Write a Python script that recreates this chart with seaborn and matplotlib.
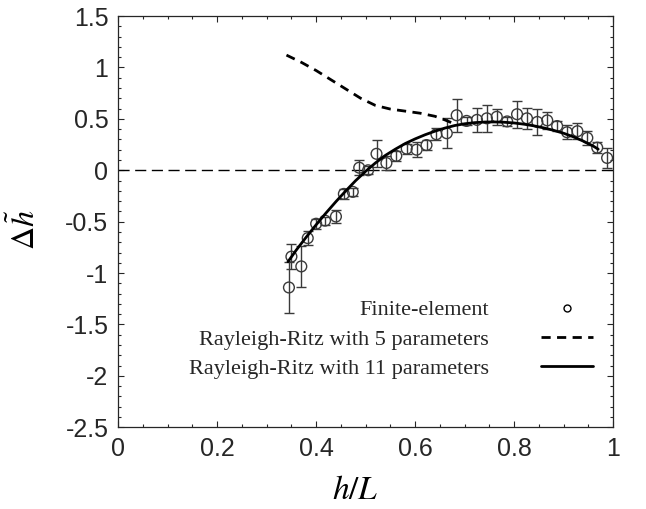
import numpy as np
import pandas as pd
import matplotlib
matplotlib.use("Agg")
import matplotlib.pyplot as plt
import seaborn as sns
from matplotlib.lines import Line2D
from matplotlib.ticker import MultipleLocator

# Finite-element points (h/L, delta h, error)
fe_x = [0.345, 0.350, 0.370, 0.383, 0.400, 0.418, 0.440, 0.456, 0.474, 0.487,
        0.505, 0.522, 0.542, 0.562, 0.583, 0.603, 0.623, 0.643, 0.664, 0.684,
        0.704, 0.725, 0.745, 0.765, 0.786, 0.806, 0.826, 0.847, 0.867, 0.887,
        0.907, 0.928, 0.948, 0.968, 0.988]
fe_y = [-1.14, -0.84, -0.935, -0.66, -0.52, -0.49, -0.45, -0.23, -0.21, 0.025,
        0.0, 0.16, 0.07, 0.14, 0.21, 0.20, 0.245, 0.35, 0.36, 0.535,
        0.48, 0.49, 0.505, 0.52, 0.475, 0.545, 0.505, 0.47, 0.485, 0.43,
        0.37, 0.38, 0.315, 0.22, 0.12]
fe_err = [0.25, 0.12, 0.20, 0.07, 0.05, 0.04, 0.06, 0.05, 0.04, 0.07,
          0.04, 0.13, 0.07, 0.05, 0.05, 0.07, 0.05, 0.06, 0.145, 0.16,
          0.04, 0.12, 0.13, 0.08, 0.04, 0.13, 0.10, 0.13, 0.08, 0.05,
          0.07, 0.08, 0.07, 0.05, 0.10]

# Rayleigh-Ritz, 5 parameters
rr5_x = [0.34, 0.37, 0.40, 0.43, 0.46, 0.49, 0.52, 0.55, 0.58, 0.61, 0.64, 0.66, 0.68]
rr5_y = [1.12, 1.05, 0.97, 0.88, 0.79, 0.70, 0.63, 0.595, 0.575, 0.555, 0.525, 0.49, 0.45]

# Rayleigh-Ritz, 11 parameters
rr11_x = [0.343, 0.36, 0.38, 0.40, 0.42, 0.44, 0.46, 0.48, 0.50, 0.52, 0.54, 0.56,
          0.58, 0.60, 0.62, 0.64, 0.66, 0.68, 0.70, 0.72, 0.74, 0.76, 0.78, 0.80,
          0.82, 0.84, 0.86, 0.88, 0.90, 0.92, 0.94, 0.96, 0.97]
rr11_y = [-0.89, -0.775, -0.65, -0.53, -0.415, -0.305, -0.2, -0.1, -0.01, 0.072, 0.145, 0.205,
          0.26, 0.305, 0.345, 0.38, 0.41, 0.435, 0.452, 0.463, 0.469, 0.47, 0.467, 0.46,
          0.448, 0.432, 0.412, 0.388, 0.36, 0.325, 0.283, 0.235, 0.205]

legend_labels = ["Finite-element", "Rayleigh-Ritz with 5 parameters",
                 "Rayleigh-Ritz with 11 parameters"]

sns.set_theme(style="ticks")
plt.rcParams['font.family'] = ['Liberation Sans', 'DejaVu Sans']
plt.rcParams['mathtext.fontset'] = 'stix'

grey = "#3a3a3a"
fig = plt.figure(figsize=(6.46, 5.09), dpi=100)
ax = fig.add_axes([0.183, 0.1605, 0.766, 0.808])

ax.axhline(0, color="black", lw=1.0, linestyle=(0, (8, 4)), zorder=1)

fe = pd.DataFrame({"x": fe_x, "y": fe_y, "err": fe_err})
ax.errorbar(fe["x"], fe["y"], yerr=fe["err"], fmt="none", ecolor=grey,
            elinewidth=1.0, capsize=3.6, capthick=1.0, zorder=2)
sns.scatterplot(data=fe, x="x", y="y", ax=ax, marker="o", s=60,
                facecolors="none", edgecolor=grey, linewidth=1.0, zorder=3,
                legend=False)

sns.lineplot(x=rr5_x, y=rr5_y, ax=ax, color="black", lw=2.0,
             linestyle=(0, (3.3, 2.3)), zorder=4, legend=False)
sns.lineplot(x=rr11_x, y=rr11_y, ax=ax, color="black", lw=2.0, zorder=4,
             legend=False)

ax.set_xlim(0, 1)
ax.set_ylim(-2.5, 1.5)
ax.set_xticks([0, 0.2, 0.4, 0.6, 0.8, 1])
ax.set_xticklabels(["0", "0.2", "0.4", "0.6", "0.8", "1"])
ax.set_yticks([-2.5, -2, -1.5, -1, -0.5, 0, 0.5, 1, 1.5])
ax.set_yticklabels(["-2.5", "-2", "-1.5", "-1", "-0.5", "0", "0.5", "1", "1.5"])
ax.xaxis.set_minor_locator(MultipleLocator(0.05))
ax.yaxis.set_minor_locator(MultipleLocator(0.1))
ax.tick_params(which="both", direction="in", top=True, right=True,
               colors="#262626", labelsize=18, width=0.8)
ax.tick_params(which="major", length=4.5, pad=7)
ax.tick_params(which="minor", length=2.5)
for sp in ax.spines.values():
    sp.set_color("#262626")
    sp.set_linewidth(0.9)

ax.set_xlabel(r"$h/L$", fontsize=24, color="black")
ax.set_ylabel(r"$\Delta\tilde{h}$", fontsize=23, color="black")
ax.xaxis.set_label_coords(0.48, -0.115)
ax.yaxis.set_label_coords(-0.155, 0.48)

handles = [
    Line2D([], [], marker="o", markersize=5, markerfacecolor="none",
           markeredgecolor="black", markeredgewidth=1.0, linestyle="none"),
    Line2D([], [], color="black", lw=2.0, linestyle=(0, (3.3, 2.3))),
    Line2D([], [], color="black", lw=2.0),
]
ax.legend(handles, legend_labels, loc="upper right",
          bbox_to_anchor=(0.96, 0.31), frameon=False, markerfirst=False,
          prop={"family": "Liberation Serif", "size": 16},
          handlelength=2.35, handletextpad=2.35, labelspacing=0.4,
          borderpad=0, borderaxespad=0)

fig.savefig("out.png", dpi=100)
